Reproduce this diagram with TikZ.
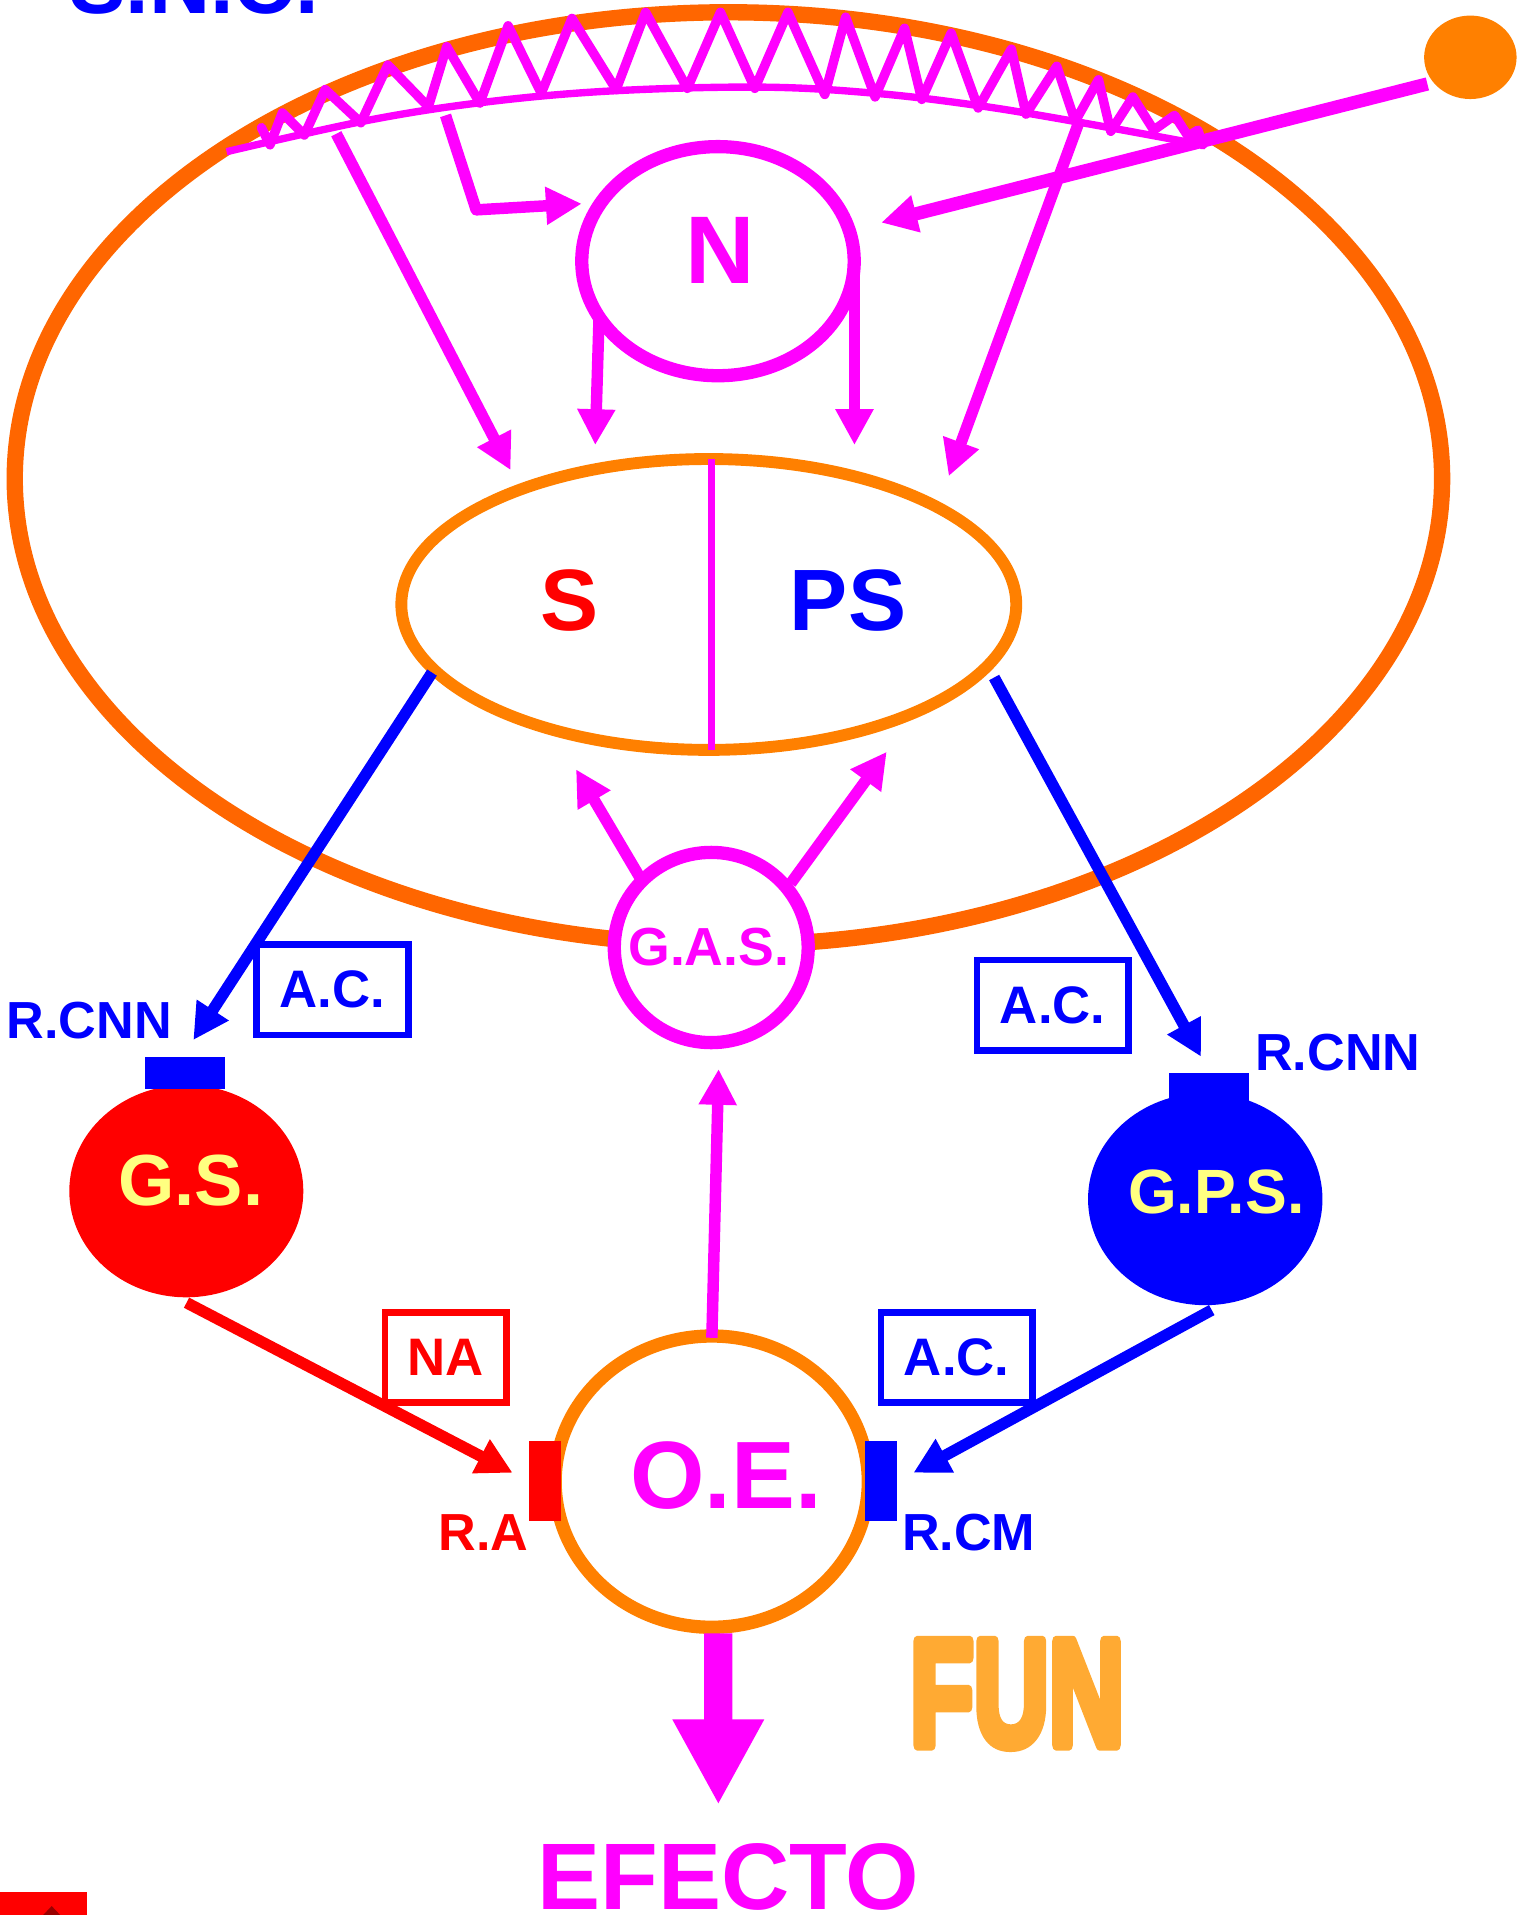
\documentclass[tikz,border=0pt]{standalone}
\usepackage{fontspec}
\setmainfont{Liberation Sans}
\newfontfamily\funfont{Liberation Sans}[BoldFeatures={FakeBold=7}]
\usetikzlibrary{arrows.meta,shapes.geometric}
\definecolor{mag}{HTML}{FF00FF}
\definecolor{blu}{HTML}{0000FF}
\definecolor{rd}{HTML}{FF0000}
\definecolor{orgA}{HTML}{FF6600}
\definecolor{orgB}{HTML}{FF8000}
\definecolor{ltyel}{HTML}{FFFF80}
\definecolor{funcol}{HTML}{FFAA33}
\definecolor{drkred}{HTML}{990000}
\newcommand{\myfs}[1]{\fontsize{#1}{#1}\selectfont\bfseries}
\newcommand{\funword}{\funfont\bfseries\fontsize{74}{74}\selectfont\scalebox{0.688}[1]{FUN}}
\begin{document}
\begin{tikzpicture}[x=0.6pt,y=-0.6pt,
  lbl/.style={inner sep=0pt, outer sep=0pt, anchor=base},
  shp/.style={ellipse, inner sep=0pt, outer sep=0pt},
  rct/.style={rectangle, inner sep=0pt, outer sep=0pt},
  arrbase/.style={line width=5.6pt, -{Triangle[length=17.5pt,width=17.5pt]}},
  marr/.style={arrbase, draw=mag},
  barr/.style={arrbase, draw=blu},
  rarr/.style={arrbase, draw=rd},
  txtbox/.style={rct, line width=3.2pt, font=\myfs{25.8}},
]
\useasboundingbox (0,0) rectangle (1245,1560.3);
\clip (0,0) rectangle (1245,1560.3);

% big CNS ellipse
\node[shp, draw=orgA, line width=8pt, minimum width=697.8pt, minimum height=456pt] (SNCell) at (593.5,390) {};
\node[lbl, text=blu, font=\myfs{41.4}] (SNC) at (158,11.4) {S.N.C.};

% zigzag receptor band
\draw[mag, line width=3.6pt] plot[smooth, tension=0.6] coordinates {(184.6,123.6) (300,98) (397,83) (500,74) (621,71) (713,76) (797,86) (876,99) (980,118)};
\draw[mag, line width=4.6pt, line join=round, line cap=round]
 (213,104) -- (220,118) -- (230,92) -- (248,110) -- (265,73) -- (294,100) -- (316,53) -- (349,87)
 -- (364,38) -- (391,84) -- (414,21) -- (441,76) -- (466,15) -- (502,73) -- (526,10) -- (560,72)
 -- (587,10) -- (615,72) -- (642,10) -- (672,77) -- (689,14) -- (713,79) -- (737,23) -- (751,81)
 -- (775,27) -- (797,88) -- (824,40) -- (836,93) -- (861,54) -- (876,99) -- (895,65) -- (905,107)
 -- (923,79) -- (940,106) -- (957,94) -- (968,111) -- (976,106) -- (980,118);

% stimulus
\node[shp, fill=orgB, minimum width=45.2pt, minimum height=40.8pt] (dot) at (1198,46.7) {};
\coordinate (a6s) at (1163,68.4);
\coordinate (a6e) at (718,181.4);
\draw[marr, line width=6.5pt] (a6s) -- (a6e);

% N
\node[shp, draw=mag, line width=6.5pt, minimum width=133.2pt, minimum height=112pt] (N) at (585,212.8) {};
\node[lbl, text=mag, font=\myfs{47}] (Ntxt) at (587,230.9) {N};

\coordinate (a1s) at (274,109);
\coordinate (a1e) at (416,383);
\draw[marr] (a1s) -- (a1e);
\coordinate (a2s) at (363,94);
\coordinate (a2m) at (388,171);
\coordinate (a2e) at (474,166);
\draw[marr, line join=round] (a2s) -- (a2m) -- (a2e);
\coordinate (a3s) at (488,261);
\coordinate (a3e) at (485,362.6);
\draw[marr] (a3s) -- (a3e);
\coordinate (a4s) at (696.2,222.7);
\coordinate (a4e) at (696.2,362.6);
\draw[marr] (a4s) -- (a4e);
\coordinate (a5s) at (880,97);
\coordinate (a5e) at (773,388);
\draw[marr] (a5s) -- (a5e);

% S / PS
\node[shp, draw=orgB, line width=5.8pt, minimum width=300.6pt, minimum height=142.2pt] (SPS) at (577.5,492.5) {};
\draw[mag, line width=3.4pt] (SPS.north) ++(2.5,0) coordinate (dtop) -- (dtop |- SPS.south);
\node[lbl, text=rd, font=\myfs{42.6}] (Stxt) at (464,514) {S};
\node[lbl, text=blu, font=\myfs{42.6}] (PStxt) at (691,514) {PS};

% G.A.S.
\node[shp, draw=mag, fill=white, line width=6.5pt, minimum width=94.8pt, minimum height=93pt] (GAS) at (579.5,772) {};
\node[lbl, text=mag, font=\myfs{26.2}] (GAStxt) at (577.5,786.3) {G.A.S.};
\coordinate (a7s) at (521,714.3);
\coordinate (a7e) at (469.3,626.8);
\draw[marr] (a7s) -- (a7e);
\coordinate (a8s) at (644.3,719.7);
\coordinate (a8e) at (722.5,612.5);
\draw[marr] (a8s) -- (a8e);

% blue efferent arrows
\coordinate (b1s) at (352,548);
\coordinate (b1e) at (157.5,847.4);
\draw[barr] (b1s) -- (b1e);
\coordinate (b2s) at (810,552);
\coordinate (b2e) at (978.6,861);
\draw[barr] (b2s) -- (b2e);

% boxes
\node[txtbox, draw=blu, text=blu, minimum width=74.2pt, minimum height=44.3pt] (AC1) at (270.9,806.4) {A.C.};
\node[txtbox, draw=blu, text=blu, minimum width=74.2pt, minimum height=44.3pt] (AC2) at (857.7,819.2) {A.C.};
\node[txtbox, draw=rd, text=rd, minimum width=59.5pt, minimum height=43.8pt] (NA) at (363.3,1106.1) {NA};
\node[txtbox, draw=blu, text=blu, minimum width=74pt, minimum height=43.8pt] (AC3) at (779.5,1106.1) {A.C.};

% ganglia
\node[shp, fill=rd, minimum width=114.4pt, minimum height=103.8pt] (GS) at (151.8,970.5) {};
\node[rct, fill=blu, minimum width=39.1pt, minimum height=15.8pt] (GScap) at (150.7,874.2) {};
\node[lbl, text=ltyel, font=\myfs{35.4}] (GStxt) at (155.4,982.5) {G.S.};
\node[lbl, text=blu, font=\myfs{25.5}] (RCNN1) at (72.6,846) {R.CNN};

\node[shp, fill=blu, minimum width=114.6pt, minimum height=103.7pt] (GPS) at (982,977) {};
\node[rct, fill=blu, minimum width=39.1pt, minimum height=14.4pt] (GPScap) at (985.1,886) {};
\node[lbl, text=ltyel, font=\myfs{30.6}] (GPStxt) at (991,989) {G.P.S.};
\node[lbl, text=blu, font=\myfs{25.5}] (RCNN2) at (1090,872.4) {R.CNN};

% effector organ
\node[shp, draw=orgB, line width=6.5pt, minimum width=153.1pt, minimum height=142.4pt] (OE) at (579.9,1207.2) {};
\node[rct, fill=rd, minimum width=15.3pt, minimum height=39pt] (RA) at (444,1206.6) {};
\node[rct, fill=blu, minimum width=15.5pt, minimum height=39pt] (RCM) at (717.7,1206.6) {};
\node[lbl, text=mag, font=\myfs{46.8}] (OEtxt) at (591.4,1229) {O.E.};
\node[lbl, text=rd, font=\myfs{25.5}] (RAtxt) at (394,1263.5) {R.A};
\node[lbl, text=blu, font=\myfs{25.5}] (RCMtxt) at (789.3,1263.5) {R.CM};

\coordinate (a9s) at (580,1090);
\coordinate (a9e) at (585.5,871);
\draw[marr] (a9s) -- (a9e);
\coordinate (r1s) at (152,1061.4);
\coordinate (r1e) at (417.7,1200);
\draw[rarr] (r1s) -- (r1e);
\coordinate (b3s) at (987.3,1067.4);
\coordinate (b3e) at (744.2,1200);
\draw[barr] (b3s) -- (b3e);

% effect
\coordinate (efs) at (585.2,1330.8);
\coordinate (efe) at (585.3,1470.7);
\draw[mag, line width=13.8pt, -{Triangle[length=41.9pt,width=41.7pt]}] (efs) -- (efe);
\node[lbl, text=mag, font=\myfs{46.2}] (EFECTO) at (593.2,1556) {EFECTO};

\begin{scope}[line join=round, miter limit=1]
\node[lbl, text=funcol, line join=round] (FUN) at (828.7,1422) {\funword};
\end{scope}

% corner button
\fill[rd] (0,1541.6) rectangle (70.6,1560.3);
\fill[drkred] (42.1,1553) -- (49,1560.3) -- (35.2,1560.3) -- cycle;
\end{tikzpicture}
\end{document}
